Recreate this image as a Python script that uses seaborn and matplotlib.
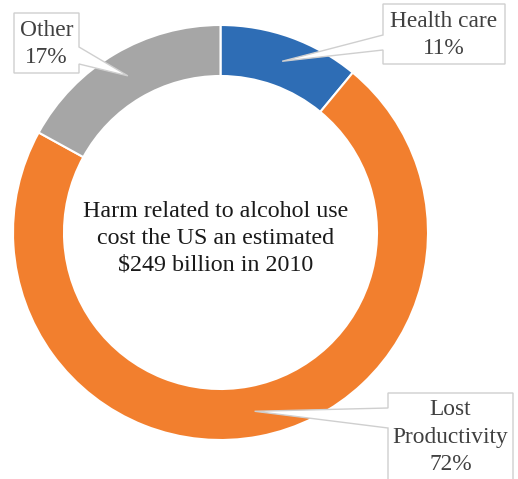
import numpy as np
import matplotlib
matplotlib.use("Agg")
import matplotlib.pyplot as plt
from matplotlib.patches import Polygon
import seaborn as sns

# ---- data ----
categories = ["Health care", "Lost Productivity", "Other"]
shares = [11, 72, 17]
label_texts = ["Health care\n11%", "Lost\nProductivity\n72%", "Other\n17%"]
colors = ["#2E6DB5", "#F27F2E", "#A6A6A6"]
center_text = "Harm related to alcohol use\ncost the US an estimated\n$249 billion in 2010"

sns.set_style("white")
plt.rcParams["font.family"] = ["Liberation Serif", "DejaVu Serif"]

W, H = 518, 479
fig = plt.figure(figsize=(W / 100, H / 100), dpi=100)
ax = fig.add_axes([0, 0, 1, 1])

def py(y):  # pixel-from-top -> data y
    return H - y

cx, cy = 220.5, py(232.5)
R = 207.5
width = 51

wedges, _ = ax.pie(shares, colors=colors, startangle=90, counterclock=False,
                   radius=R, center=(cx, cy),
                   wedgeprops=dict(width=width, edgecolor="white", linewidth=1.5),
                   frame=True)
ax.set_xlim(0, W)
ax.set_ylim(0, H)
ax.set_aspect("equal")
ax.axis("off")

ax.text(216, py(238), center_text, ha="center", va="center", fontsize=17.3,
        color="#1a1a1a", linespacing=1.36)

# callout boxes: (x0, y0, x1, y1) in px, side of pointer, base (ya, yb)
boxes = {
    "Health care": ((383, 4, 505, 64), "left", (35, 50)),
    "Lost Productivity": ((388, 393, 513, 482), "left", (408, 428)),
    "Other": ((14, 13, 79, 73), "right", (47, 64)),
}

rmid = R - width / 2
for w, cat, txt in zip(wedges, categories, label_texts):
    ang = np.deg2rad((w.theta1 + w.theta2) / 2)
    tx, ty = cx + rmid * np.cos(ang), cy + rmid * np.sin(ang)
    (x0, y0, x1, y1), side, (ya, yb) = boxes[cat]
    if side == "left":
        pts = [(x0, py(y0)), (x1, py(y0)), (x1, py(y1)), (x0, py(y1)),
               (x0, py(yb)), (tx, ty), (x0, py(ya))]
    else:
        pts = [(x0, py(y0)), (x1, py(y0)), (x1, py(ya)), (tx, ty),
               (x1, py(yb)), (x1, py(y1)), (x0, py(y1))]
    ax.add_patch(Polygon(pts, closed=True, facecolor="white",
                         edgecolor="#CFCFCF", linewidth=1.0, zorder=5))
    ax.text((x0 + x1) / 2, py((y0 + min(y1, H)) / 2 + 1), txt, ha="center",
            va="center", fontsize=16.8, color="#404040", linespacing=1.4,
            zorder=6)

fig.savefig("out.png", dpi=100)
